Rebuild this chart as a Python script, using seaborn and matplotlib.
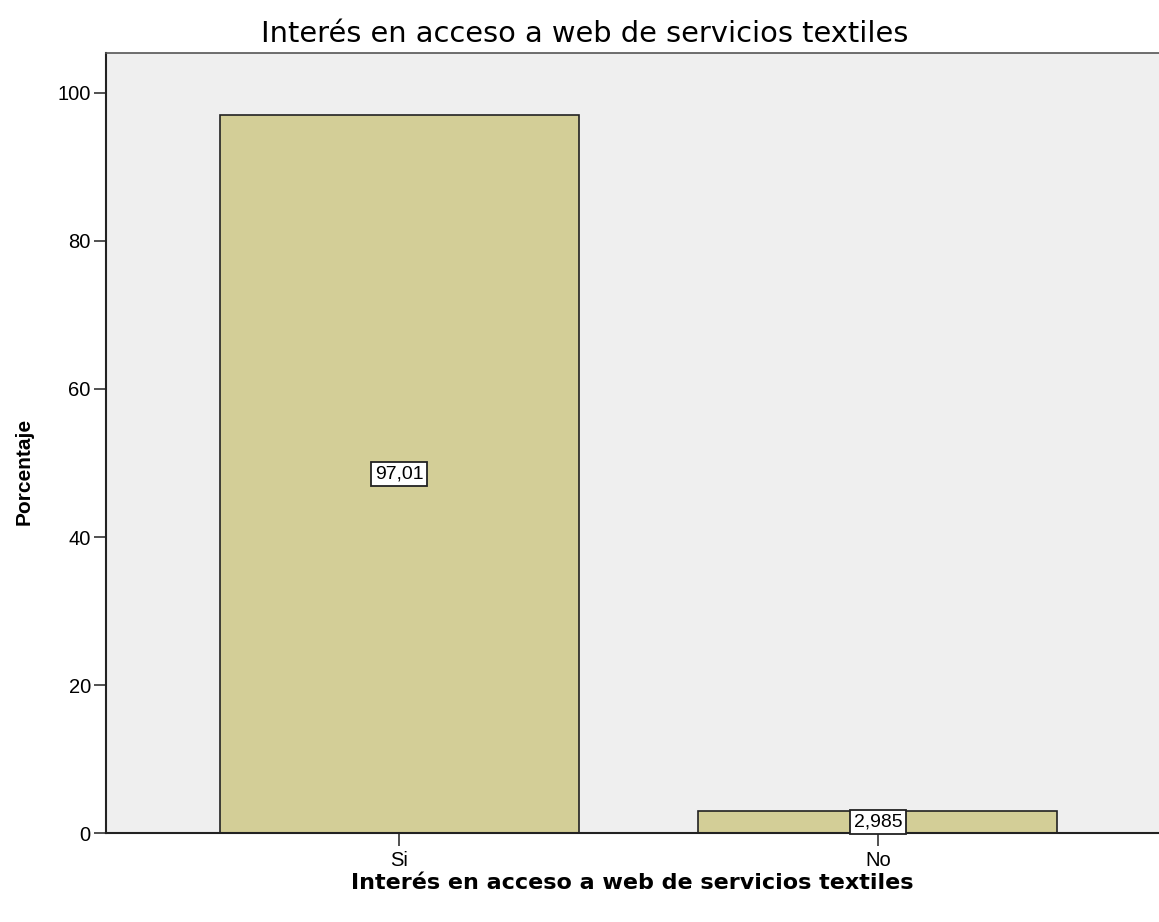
import pandas as pd
import matplotlib.pyplot as plt
import seaborn as sns

# data
categories = ['Si', 'No']
percentages = [97.01, 2.985]
value_labels = ['97,01', '2,985']

df = pd.DataFrame({'Respuesta': categories, 'Porcentaje': percentages})

sns.set_style('white')
plt.rcParams['font.family'] = ['Liberation Sans', 'DejaVu Sans']
plt.rcParams['text.color'] = 'black'
plt.rcParams['axes.labelcolor'] = 'black'
plt.rcParams['xtick.color'] = 'black'
plt.rcParams['ytick.color'] = 'black'

fig = plt.figure(figsize=(11.59, 9.22), dpi=100)
ax = fig.add_axes([0.0915, 0.0965, 0.9085, 0.846])
ax.set_facecolor('#EFEFEF')

sns.barplot(data=df, x='Respuesta', y='Porcentaje', color='#D3CE97',
            edgecolor='#222222', linewidth=1.2, width=0.75, saturation=1, ax=ax)

# value boxes in the middle of each bar
for i, (v, lab) in enumerate(zip(percentages, value_labels)):
    ax.text(i, v / 2, lab, ha='center', va='center', fontsize=14,
            bbox=dict(boxstyle='square,pad=0.2', fc='white', ec='#222222', lw=1.3))

ax.set_xlim(-0.612, 1.587)
ax.set_ylim(0, 105.4)
ax.set_yticks([0, 20, 40, 60, 80, 100])

for s in ['left', 'bottom']:
    ax.spines[s].set_color('#222222')
    ax.spines[s].set_linewidth(1.5)
ax.spines['top'].set_color('#555555')
ax.spines['top'].set_linewidth(1.2)
ax.spines['right'].set_visible(False)

ax.tick_params(axis='both', direction='out', length=9, width=1.2, color='#333333',
               labelsize=14.5, bottom=True, left=True)
ax.tick_params(axis='y', pad=2)
ax.tick_params(axis='x', pad=4)

title = 'Interés en acceso a web de servicios textiles'
ax.set_title(title, fontsize=20.8, family='DejaVu Sans', x=0.455, pad=8)
ax.set_xlabel(title, fontsize=16, fontweight='bold', family='DejaVu Sans', labelpad=2)
ax.set_ylabel('Porcentaje', fontsize=15, fontweight='bold')
ax.yaxis.set_label_coords(-0.069, 0.463)

plt.savefig('out.png', dpi=100)
